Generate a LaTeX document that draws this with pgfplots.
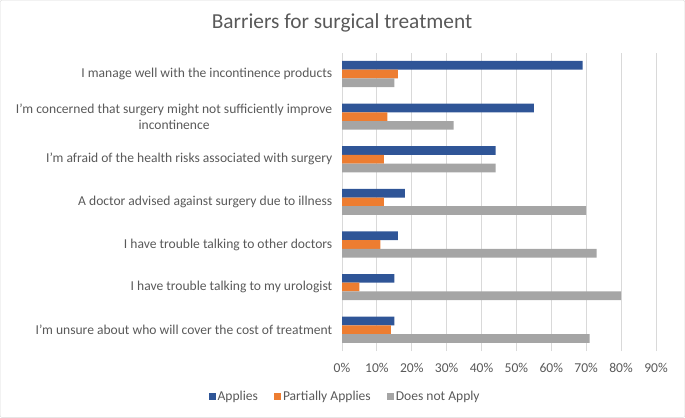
\documentclass[border=0pt]{standalone}
\usepackage{pgfplots}
\pgfplotsset{compat=1.18}
\usepackage{fontspec}
\setmainfont{Carlito}
\definecolor{cBlue}{HTML}{2F5597}
\definecolor{cOrange}{HTML}{ED7D31}
\definecolor{cGray}{HTML}{A5A5A5}
\definecolor{cGrid}{HTML}{D9D9D9}
\definecolor{cText}{HTML}{595959}
\begin{document}
\begin{tikzpicture}[x=1bp,y=1bp]
\draw[cGrid, rounded corners=2bp] (0.5,0.5) rectangle (684.5,417.5);
\node[text=cText, font=\fontsize{21.4}{25}\selectfont] at (342,395) {Barriers for surgical treatment};
\begin{axis}[
  at={(342bp,67bp)}, anchor=south west,
  scale only axis, width=313.7bp, height=298bp,
  xmin=0, xmax=90, ymin=-0.5, ymax=6.5,
  xbar, bar width=8.7bp,
  axis line style={draw=none},
  major grid style={cGrid, line width=0.8bp},
  xmajorgrids,
  xtick={0,10,...,90},
  xticklabel={\pgfmathprintnumber{\tick}\%},
  /pgf/number format/assume math mode=true,
  ytick={0,...,6},
  yticklabels={I'm unsure about who will cover the cost of treatment,
    I have trouble talking to my urologist,
    I have trouble talking to other doctors,
    A doctor advised against surgery due to illness,
    I'm afraid of the health risks associated with surgery,
    {I'm concerned that surgery might not sufficiently improve \\incontinence},
    I manage well with the incontinence products},
  tick style={draw=none},
  tick label style={text=cText, font=\fontsize{13.6}{16}\selectfont},
  yticklabel style={align=center, xshift=-2bp},
  xticklabel style={yshift=-9bp},
  legend style={at={(0.01,-0.154)}, anchor=center, draw=none, fill=none,
    /tikz/every even column/.append style={column sep=14bp},
    font=\fontsize{13.6}{16}\selectfont, text=cText},
  legend columns=3,
  legend image code/.code={\fill[#1] (0bp,-3.5bp) rectangle (7bp,3.5bp);},
  clip=false,
]
\draw[cGrid, line width=0.8bp] (axis cs:0,-0.5) -- (axis cs:0,6.5);
\addplot[fill=cBlue, draw=none, bar shift=8.7bp] coordinates {(15,0) (15,1) (16,2) (18,3) (44,4) (55,5) (69,6)};
\addplot[fill=cOrange, draw=none, bar shift=0bp] coordinates {(14,0) (5,1) (11,2) (12,3) (12,4) (13,5) (16,6)};
\addplot[fill=cGray, draw=none, bar shift=-8.7bp] coordinates {(71,0) (80,1) (73,2) (70,3) (44,4) (32,5) (15,6)};
\legend{Applies, Partially Applies, Does not Apply}
\end{axis}
\end{tikzpicture}
\end{document}
